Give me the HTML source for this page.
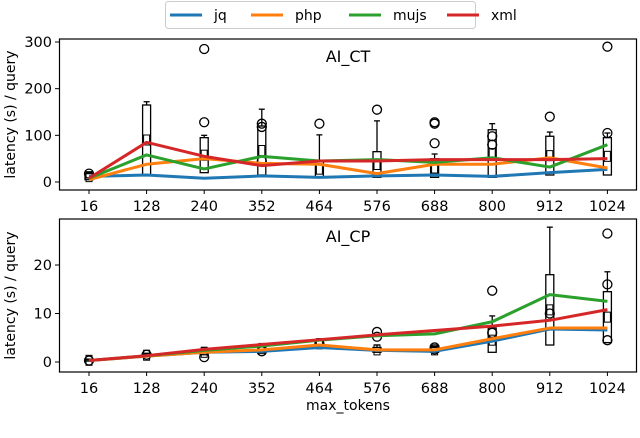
<!DOCTYPE html>
<html><head><meta charset="utf-8"><style>
body{margin:0;background:#fff;font-family:"DejaVu Sans","Liberation Sans",sans-serif;}
svg{display:block}
text{font-family:"DejaVu Sans","Liberation Sans",sans-serif;fill:#000}
</style></head><body>
<svg id="c" width="640" height="438"></svg>
<script>
const categories=[16,128,240,352,464,576,688,800,912,1024];
const seriesNames=["jq","php","mujs","xml"];
const colors=["#1f77b4","#ff7f0e","#2ca02c","#d62728"];
const ctJq=[12,15,8,13,10,13,15,12,20,27];
const ctPhp=[5,38,50,40,38,18,38,38,52,30];
const ctMujs=[8,58,28,55,45,48,42,52,32,80];
const ctXml=[8,85,55,35,45,45,48,48,48,50];
const cpJq=[0.3,1.2,2,2.2,3,2.4,2.2,4.3,6.8,6.6];
const cpPhp=[0.3,1.2,2,2.5,3.5,2.5,2.5,4.8,7,7];
const cpMujs=[0.3,1.3,2.4,3.3,4.5,5.4,5.8,8.3,13.9,12.5];
const cpXml=[0.3,1.3,2.6,3.6,4.6,5.6,6.5,7.4,8.6,10.8];
const ctBoxLo=[5,15,20,15,10,10,10,10,15,15];
const ctBoxHi=[18,165,95,120,45,65,50,112,98,95];
const ctWhiskHi=[20,172,100,156,101,131,60,125,107,105];
const ctOutliers=[[18],[],[285,128],[125,118,45],[125],[155],[125,128,83],[98,80],[140],[290,105]];
const cpBoxLo=[0.2,1.2,1.5,2,3,2,2,2,3.5,4];
const cpBoxHi=[0.5,1.6,2.5,3.5,4.5,3,3,7,18,14.5];
const cpWhiskHi=[0.6,1.8,3,3.8,4.8,3.5,3.2,9.5,27.8,18.6];
const cpOutliers=[[0.3],[1.5],[1.0],[2.2],[3.8],[6.2,5.2],[3,2.6],[14.7,6],[10],[26.5,16,4.5]];
const ctTicks=[0,100,200,300];
const cpTicks=[0,10,20];
const svg=document.getElementById('c');
const NS='http://www.w3.org/2000/svg';
function mk(t,a,p){const e=document.createElementNS(NS,t);for(const k in a)e.setAttribute(k,a[k]);(p||svg).appendChild(e);return e;}
function xs(i){return 89+i*57.6;}
function panel(top,bottom,y0px,yScale,ticks,title,series,boxLo,boxHi,whHi,outs,name){
  const g=mk('g',{});
  
  
  const ys=v=>y0px-v*yScale;
  for(let i=0;i<categories.length;i++){
    const x=xs(i);
    const b=mk('g',{},g);
    
    
    mk('line',{x1:x,x2:x,y1:ys(boxHi[i]),y2:ys(whHi[i]),stroke:'#000','stroke-width':1.3},b);
    mk('line',{x1:x-3,x2:x+3,y1:ys(whHi[i]),y2:ys(whHi[i]),stroke:'#000','stroke-width':1.3},b);
    mk('rect',{x:x-4,y:ys(boxHi[i]),width:8,height:ys(boxLo[i])-ys(boxHi[i]),fill:'none',stroke:'#000','stroke-width':1.3},b);
    mk('rect',{x:x-3,y:ys((boxLo[i]+boxHi[i])/2)-5,width:6,height:10,fill:'none',stroke:'#000','stroke-width':1},b);
    outs[i].forEach(o=>{mk('circle',{cx:x,cy:ys(o),r:4.5,fill:'none',stroke:'#000','stroke-width':1.3},b);});
  }
  series.forEach((s,k)=>{
    const p=mk('polyline',{points:s.map((v,i)=>xs(i)+','+ys(v)).join(' '),fill:'none',stroke:colors[k],'stroke-width':3,'stroke-linejoin':'round'},g);
    
    
  });
  mk('rect',{x:59.5,y:top,width:577,height:bottom-top,fill:'none',stroke:'#000','stroke-width':1.2},g);
  ticks.forEach(t=>{
    mk('line',{x1:55,x2:59.5,y1:ys(t),y2:ys(t),stroke:'#000'},g);
    const tx=mk('text',{x:52,y:ys(t)+5,'text-anchor':'end','font-size':14.5},g);tx.textContent=t;
    
    
  });
  categories.forEach((c,i)=>{
    mk('line',{x1:xs(i),x2:xs(i),y1:bottom,y2:bottom+4,stroke:'#000'},g);
    const tx=mk('text',{x:xs(i),y:bottom+21,'text-anchor':'middle','font-size':14.5},g);tx.textContent=c;
    
    
  });
  const tt=mk('text',{x:348,y:top+23,'text-anchor':'middle','font-size':16},g);tt.textContent=title;
  
  
  const yl=mk('text',{transform:`translate(15,${(top+bottom)/2}) rotate(-90)`,'text-anchor':'middle','font-size':14},g);yl.textContent='latency (s) / query';
  
  
}
panel(39,190,182,140/300,ctTicks,'AI_CT',[ctJq,ctPhp,ctMujs,ctXml],ctBoxLo,ctBoxHi,ctWhiskHi,ctOutliers,'ai-ct-panel');
panel(219,372,362,4.85,cpTicks,'AI_CP',[cpJq,cpPhp,cpMujs,cpXml],cpBoxLo,cpBoxHi,cpWhiskHi,cpOutliers,'ai-cp-panel');
const xl=mk('text',{x:348,y:410,'text-anchor':'middle','font-size':14});xl.textContent='max_tokens';


const lg=mk('g',{});


mk('rect',{x:165.5,y:1.5,width:310,height:27,rx:3,fill:'#fff',stroke:'#ccc'},lg);
const lx=[170,251,349,447];
seriesNames.forEach((n,k)=>{
  const e=mk('g',{},lg);
  
  
  mk('line',{x1:lx[k],x2:lx[k]+32,y1:15,y2:15,stroke:colors[k],'stroke-width':3},e);
  const t=mk('text',{x:lx[k]+44,y:20,'font-size':14},e);t.textContent=n;
});
</script>
</body></html>
